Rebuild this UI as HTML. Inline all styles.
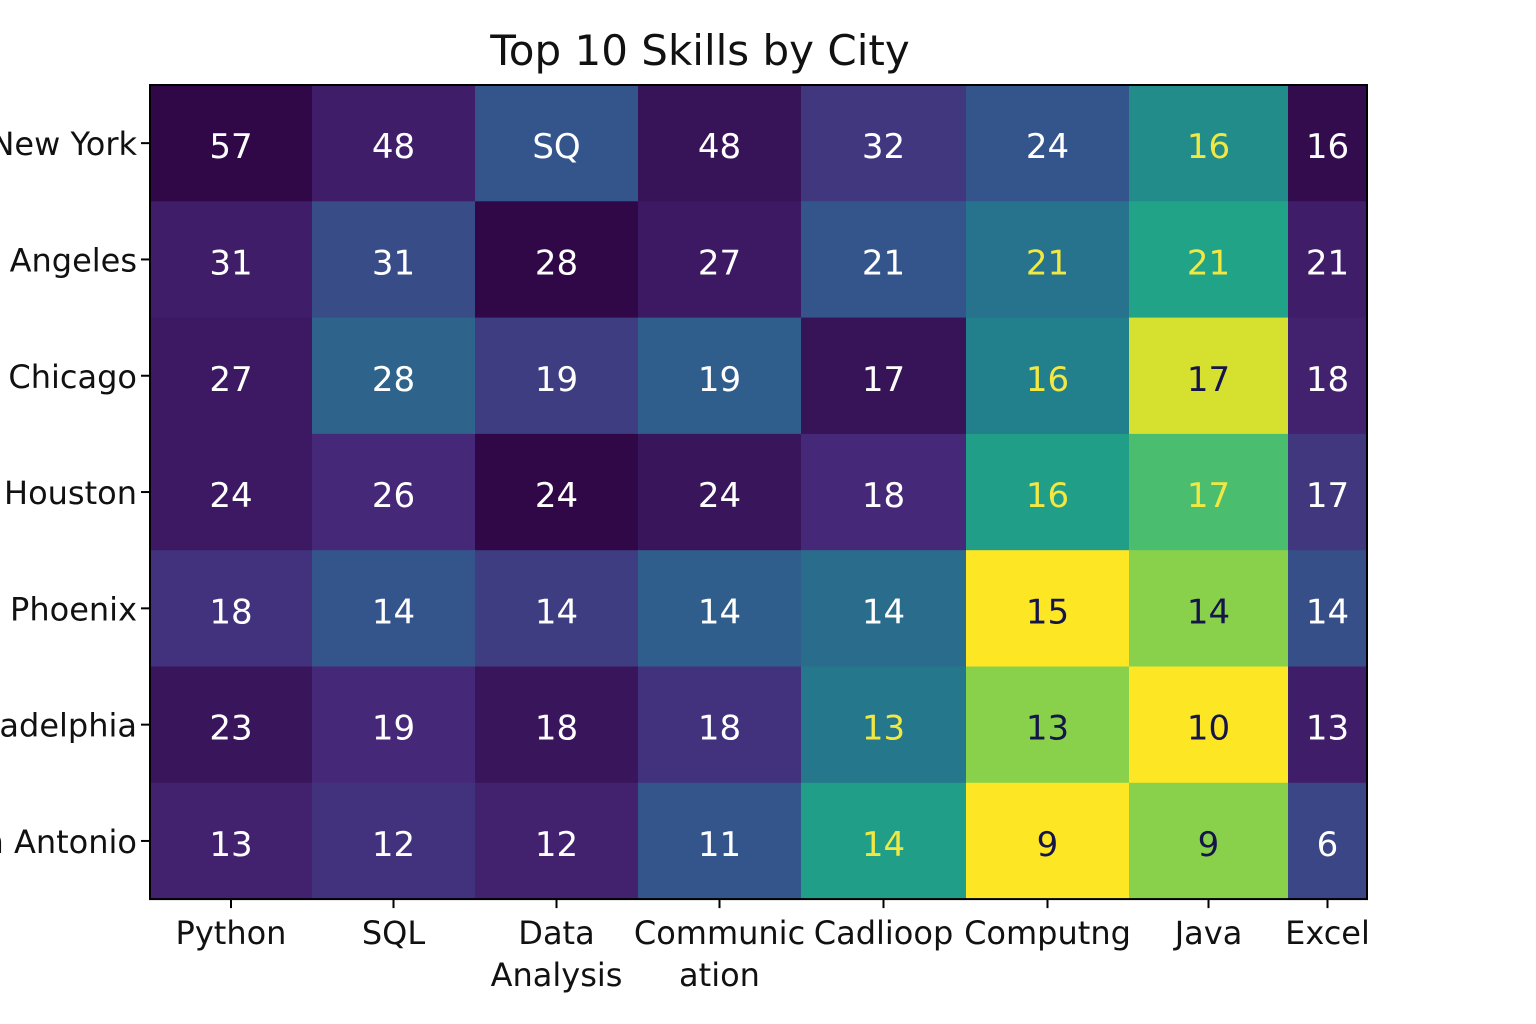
<!DOCTYPE html>
<html><head><meta charset="utf-8"><style>
html,body{margin:0;padding:0;background:#fff;width:1536px;height:1024px;overflow:hidden}
svg text{font-family:"DejaVu Sans","Liberation Sans",sans-serif}
</style></head><body>
<svg id="chart" width="1536" height="1024" viewBox="0 0 1536 1024" xmlns="http://www.w3.org/2000/svg">
<text x="700" y="65" font-size="42" text-anchor="middle" fill="#111">Top 10 Skills by City</text>
<g id="cells"></g><g id="axes"></g>
</svg>
<script>
const cities=["New York","Los Angeles","Chicago","Houston","Phoenix","Philadelphia","San Antonio"];
const skills=["Python","SQL","Data\nAnalysis","Communic\nation","Cadlioop","Computng","Java","Excel"];
const labels=[
["57","48","SQ","48","32","24","16","16"],
["31","31","28","27","21","21","21","21"],
["27","28","19","19","17","16","17","18"],
["24","26","24","24","18","16","17","17"],
["18","14","14","14","14","15","14","14"],
["23","19","18","18","13","13","10","13"],
["13","12","12","11","14","9","9","6"]];
const shade=[
[0.0,0.1,0.3,0.05,0.2,0.3,0.5,0.02],
[0.1,0.27,0.0,0.08,0.3,0.4,0.6,0.1],
[0.08,0.35,0.22,0.33,0.05,0.45,0.95,0.12],
[0.08,0.15,0.0,0.06,0.15,0.58,0.72,0.2],
[0.18,0.3,0.22,0.33,0.38,1.0,0.84,0.28],
[0.06,0.15,0.06,0.18,0.42,0.84,1.0,0.1],
[0.12,0.18,0.12,0.3,0.58,1.0,0.84,0.25]];
// text tone: 0 white, 1 yellow, 2 dark
const tone=[
[0,0,0,0,0,0,1,0],[0,0,0,0,0,1,1,0],[0,0,0,0,0,1,2,0],[0,0,0,0,0,1,1,0],
[0,0,0,0,0,2,2,0],[0,0,0,0,1,2,2,0],[0,0,0,0,1,2,2,0]];
const colW=[162,163,163,163,165,163,159,79];
const X0=150,Y0=85,RH=116.3;
const stops=[[0,[48,8,72]],[0.15,[70,40,120]],[0.3,[52,85,140]],[0.45,[33,128,140]],[0.6,[32,163,134]],[0.75,[85,195,104]],[0.88,[160,215,60]],[1,[253,231,37]]];
function vir(t){for(let i=1;i<stops.length;i++){if(t<=stops[i][0]){const a=stops[i-1],b=stops[i],f=(t-a[0])/(b[0]-a[0]);return "rgb("+a[1].map((v,k)=>Math.round(v+(b[1][k]-v)*f)).join(",")+")";}}return "rgb(253,231,37)";}
const NS="http://www.w3.org/2000/svg";
function colX(j){let x=X0;for(let k=0;k<j;k++)x+=colW[k];return x;}
function rowY(i){return Y0+i*RH;}
const cg=document.getElementById("cells"),ag=document.getElementById("axes");
const tc=["#ffffff","#f2e843","#15154a"];
for(let i=0;i<cities.length;i++)for(let j=0;j<skills.length;j++){
 const r=document.createElementNS(NS,"rect");
 r.setAttribute("x",colX(j));r.setAttribute("y",rowY(i));r.setAttribute("width",colW[j]+0.5);r.setAttribute("height",RH+0.5);r.setAttribute("fill",vir(shade[i][j]));
 
 
 cg.appendChild(r);
 const t=document.createElementNS(NS,"text");
 t.setAttribute("x",colX(j)+colW[j]/2);t.setAttribute("y",rowY(i)+RH/2+15);t.setAttribute("font-size","34");t.setAttribute("text-anchor","middle");t.setAttribute("fill",tc[tone[i][j]]);
 t.textContent=labels[i][j];
 
 
 cg.appendChild(t);
}
const fr=document.createElementNS(NS,"rect");
fr.setAttribute("x",X0);fr.setAttribute("y",Y0);fr.setAttribute("width",colX(skills.length)-X0);fr.setAttribute("height",RH*cities.length);fr.setAttribute("fill","none");fr.setAttribute("stroke","#000");fr.setAttribute("stroke-width","2");


ag.appendChild(fr);
for(let i=0;i<cities.length;i++){
 const y=rowY(i)+RH/2;
 const l=document.createElementNS(NS,"line");l.setAttribute("x1",X0-9);l.setAttribute("x2",X0);l.setAttribute("y1",y);l.setAttribute("y2",y);l.setAttribute("stroke","#000");l.setAttribute("stroke-width","2");
 
 
 ag.appendChild(l);
 const t=document.createElementNS(NS,"text");t.setAttribute("x",X0-13);t.setAttribute("y",y+12);t.setAttribute("font-size","32");t.setAttribute("text-anchor","end");t.setAttribute("fill","#111");t.textContent=cities[i];
 
 
 ag.appendChild(t);
}
for(let j=0;j<skills.length;j++){
 const x=colX(j)+colW[j]/2;const y=Y0+RH*cities.length;
 const l=document.createElementNS(NS,"line");l.setAttribute("x1",x);l.setAttribute("x2",x);l.setAttribute("y1",y);l.setAttribute("y2",y+9);l.setAttribute("stroke","#000");l.setAttribute("stroke-width","2");
 
 
 ag.appendChild(l);
 skills[j].split("\n").forEach((s,k)=>{
  const t=document.createElementNS(NS,"text");t.setAttribute("x",x);t.setAttribute("y",y+45+k*42);t.setAttribute("font-size","32");t.setAttribute("text-anchor","middle");t.setAttribute("fill","#111");t.textContent=s;
  
  
  ag.appendChild(t);
 });
}
</script>
</body></html>
